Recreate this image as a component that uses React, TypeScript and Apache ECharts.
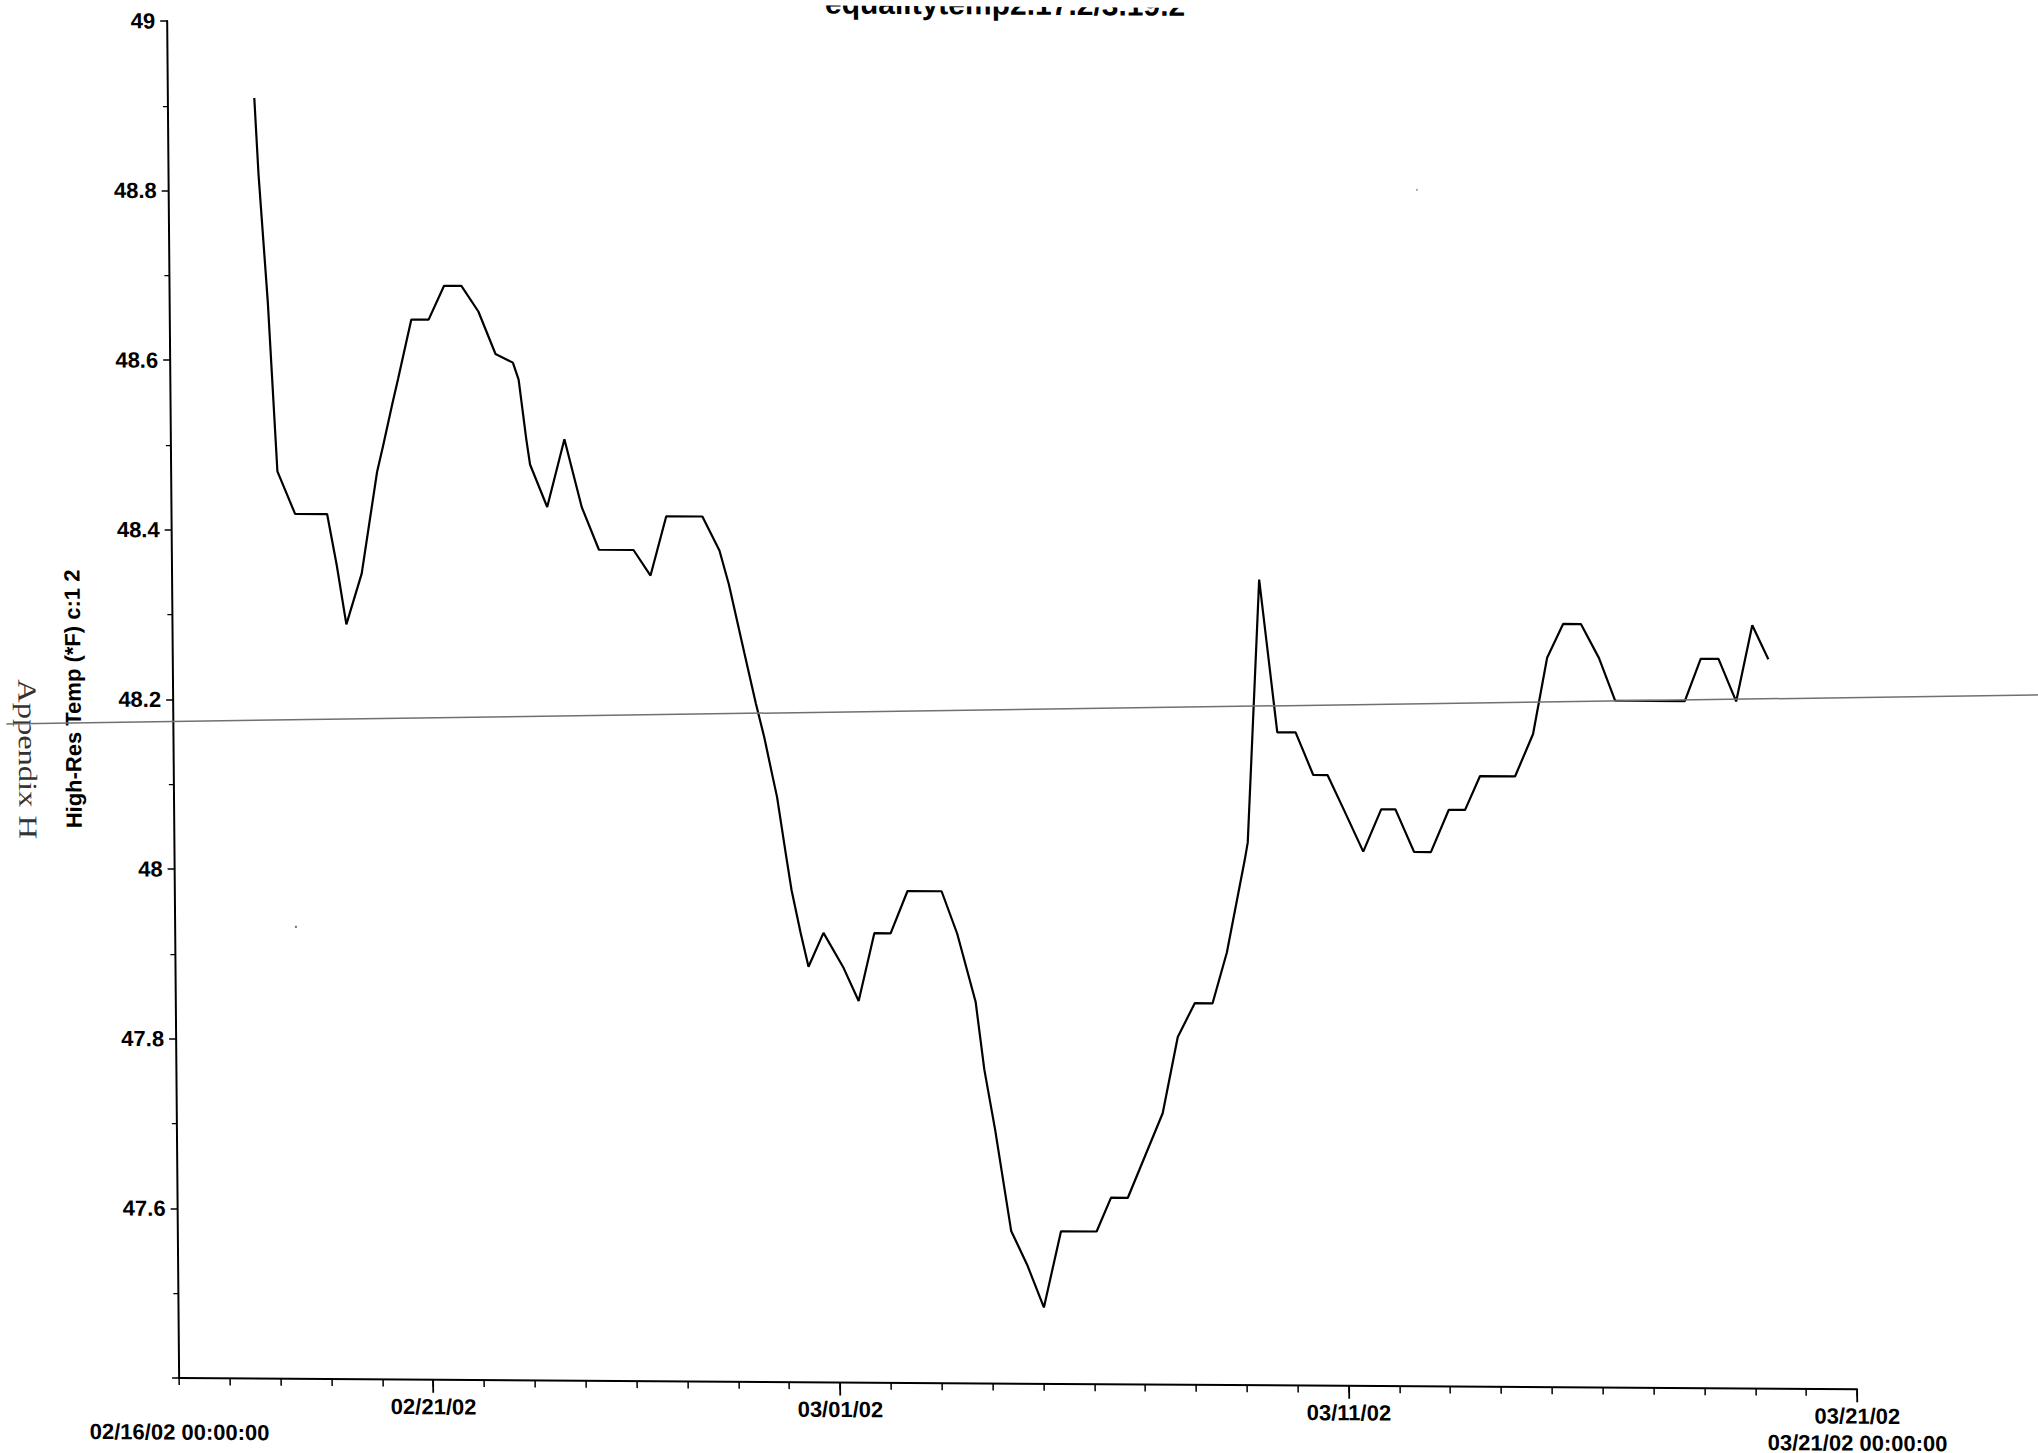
import React, { useEffect, useRef } from "react";
import * as echarts from "echarts";

// Days elapsed since 02/16/02 00:00:00
const days = [
  1.7, 1.77, 1.93, 2.09, 2.43, 3.06, 3.24, 3.42, 3.73, 3.89, 4.05, 4.17, 4.36, 4.48, 4.75, 5.09,
  5.4, 5.74, 6.07, 6.4, 6.74, 6.85, 6.99, 7.06, 7.39, 7.74, 8.07, 8.4, 9.08, 9.41, 9.73, 10.44,
  10.77, 10.95, 11.24, 11.46, 11.62, 11.79, 11.86, 12.03, 12.13, 12.3, 12.45, 12.75, 13.13, 13.43,
  13.75, 14.07, 14.41, 15.08, 15.38, 15.73, 15.89, 16.09, 16.39, 16.7, 17.02, 17.37, 18.07, 18.36,
  18.69, 19.04, 19.39, 19.7, 20.04, 20.39, 20.68, 21.05, 21.11, 21.38, 21.71, 22.07, 22.41, 22.69,
  23.0, 23.38, 23.74, 24.02, 24.38, 24.71, 25.07, 25.39, 25.69, 26.38, 26.74, 27.03, 27.35, 27.7,
  28.05, 28.36, 29.73, 30.05, 30.4, 30.74, 31.07, 31.38,
];
// High-Res Temp (*F)
const temps = [
  48.91, 48.82, 48.67, 48.47, 48.42, 48.42, 48.36, 48.29, 48.35, 48.41, 48.47, 48.5, 48.55, 48.58,
  48.65, 48.65, 48.69, 48.69, 48.66, 48.61, 48.6, 48.58, 48.51, 48.48, 48.43, 48.51, 48.43, 48.38,
  48.38, 48.35, 48.42, 48.42, 48.38, 48.34, 48.26, 48.2, 48.16, 48.11, 48.09, 48.02, 47.98, 47.93,
  47.89, 47.93, 47.89, 47.85, 47.93, 47.93, 47.98, 47.98, 47.93, 47.85, 47.77, 47.7, 47.58, 47.54,
  47.49, 47.58, 47.58, 47.62, 47.62, 47.67, 47.72, 47.81, 47.85, 47.85, 47.91, 48.02, 48.04, 48.35,
  48.17, 48.17, 48.12, 48.12, 48.08, 48.03, 48.08, 48.08, 48.03, 48.03, 48.08, 48.08, 48.12, 48.12,
  48.17, 48.26, 48.3, 48.3, 48.26, 48.21, 48.21, 48.26, 48.26, 48.21, 48.3, 48.26,
];

const xMajorDays = [5, 13, 23, 33];
const xMajorLabels = ["02/21/02", "03/01/02", "03/11/02", "03/21/02"];
const xEndDays = [0, 33];
const xEndLabels = ["02/16/02 00:00:00", "03/21/02 00:00:00"];

const titleText = "equalitytemp2.17.2/3.19.2";
const yName = "High-Res Temp (*F) c:1 2";
const sideNote = "Appendix H";

const SANS = '"Liberation Sans", Arial, sans-serif';
const SERIF = '"Liberation Serif", "Times New Roman", serif';

export default function App() {
  const ref = useRef<HTMLDivElement>(null);

  useEffect(() => {
    if (!ref.current) return;
    const chart = echarts.init(ref.current, null, { renderer: "svg" });
    const data = days.map((d, i) => [d, temps[i]]);
    const baseX = {
      type: "value",
      min: 0,
      max: 33,
      position: "bottom",
      splitLine: { show: false },
    };
    const labelStyle = {
      color: "#000",
      fontFamily: SANS,
      fontWeight: "bold",
      fontSize: 22,
    };
    chart.setOption({
      animation: false,
      backgroundColor: "#fff",
      grid: { left: 167, right: 193, top: 20, bottom: 76, containLabel: false },
      xAxis: [
        {
          ...baseX,
          interval: 1,
          axisLine: { show: true, lineStyle: { color: "#000", width: 2 } },
          axisTick: { show: true, length: 7, lineStyle: { color: "#000", width: 1.5 } },
          axisLabel: { show: false },
        },
        {
          ...baseX,
          axisLine: { show: false },
          axisTick: {
            show: true,
            length: 13,
            customValues: xMajorDays,
            lineStyle: { color: "#000", width: 1.8 },
          },
          axisLabel: {
            ...labelStyle,
            margin: 16,
            customValues: xMajorDays,
            showMinLabel: true,
            showMaxLabel: true,
            formatter: (v: number) => {
              const i = xMajorDays.indexOf(Math.round(v));
              return i >= 0 ? xMajorLabels[i] : "";
            },
          },
        },
        {
          ...baseX,
          axisLine: { show: false },
          axisTick: { show: false },
          axisLabel: {
            ...labelStyle,
            margin: 43,
            customValues: xEndDays,
            showMinLabel: true,
            showMaxLabel: true,
            formatter: (v: number) => {
              const i = xEndDays.indexOf(Math.round(v));
              return i >= 0 ? xEndLabels[i] : "";
            },
          },
        },
      ],
      yAxis: {
        type: "value",
        min: 47.4,
        max: 49,
        interval: 0.2,
        name: yName,
        nameLocation: "middle",
        nameGap: 89,
        nameTextStyle: { ...labelStyle },
        splitLine: { show: false },
        axisLine: { show: true, lineStyle: { color: "#000", width: 2 } },
        axisTick: { show: true, length: 7, lineStyle: { color: "#000", width: 1.5 } },
        minorTick: { show: true, splitNumber: 2, length: 5, lineStyle: { color: "#000", width: 1.2 } },
        minorSplitLine: { show: false },
        axisLabel: {
          ...labelStyle,
          margin: 12,
          formatter: (v: number) => (v < 47.5 ? "" : String(+v.toFixed(1))),
        },
      },
      series: [
        {
          type: "line",
          xAxisIndex: 0,
          data,
          showSymbol: false,
          symbol: "none",
          lineStyle: { color: "#000", width: 2.2 },
          z: 5,
        },
      ],
      graphic: [
        {
          type: "text",
          x: 1005,
          y: -2.5,
          style: {
            text: titleText,
            fontFamily: SANS,
            fontWeight: "bold",
            fontSize: 30,
            fill: "#000",
            align: "center",
            verticalAlign: "middle",
          },
        },
        {
          type: "text",
          x: 21,
          y: 759,
          rotation: -Math.PI / 2,
          scaleX: 1.25,
          style: {
            text: sideNote,
            fontFamily: SERIF,
            fontSize: 26,
            fill: "#333",
            align: "center",
            verticalAlign: "middle",
          },
        },
        {
          type: "line",
          shape: { x1: -10, y1: 724.1, x2: 2048, y2: 681.2 },
          style: { stroke: "#707070", lineWidth: 1.5 },
          z: 10,
        },
        { type: "circle", shape: { cx: 287.8, cy: 925, r: 1.2 }, style: { fill: "#777" } },
        { type: "circle", shape: { cx: 1415.3, cy: 180.6, r: 1 }, style: { fill: "#999" } },
      ],
    });
    return () => chart.dispose();
  }, []);

  return (
    <div
      ref={ref}
      style={{
        position: "absolute",
        left: 0,
        top: 0,
        width: 2038,
        height: 1453,
        transformOrigin: "0 0",
        transform: "matrix(1, 0.0066, 0.0088, 1, 0, 0)",
        background: "#fff",
      }}
    />
  );
}
